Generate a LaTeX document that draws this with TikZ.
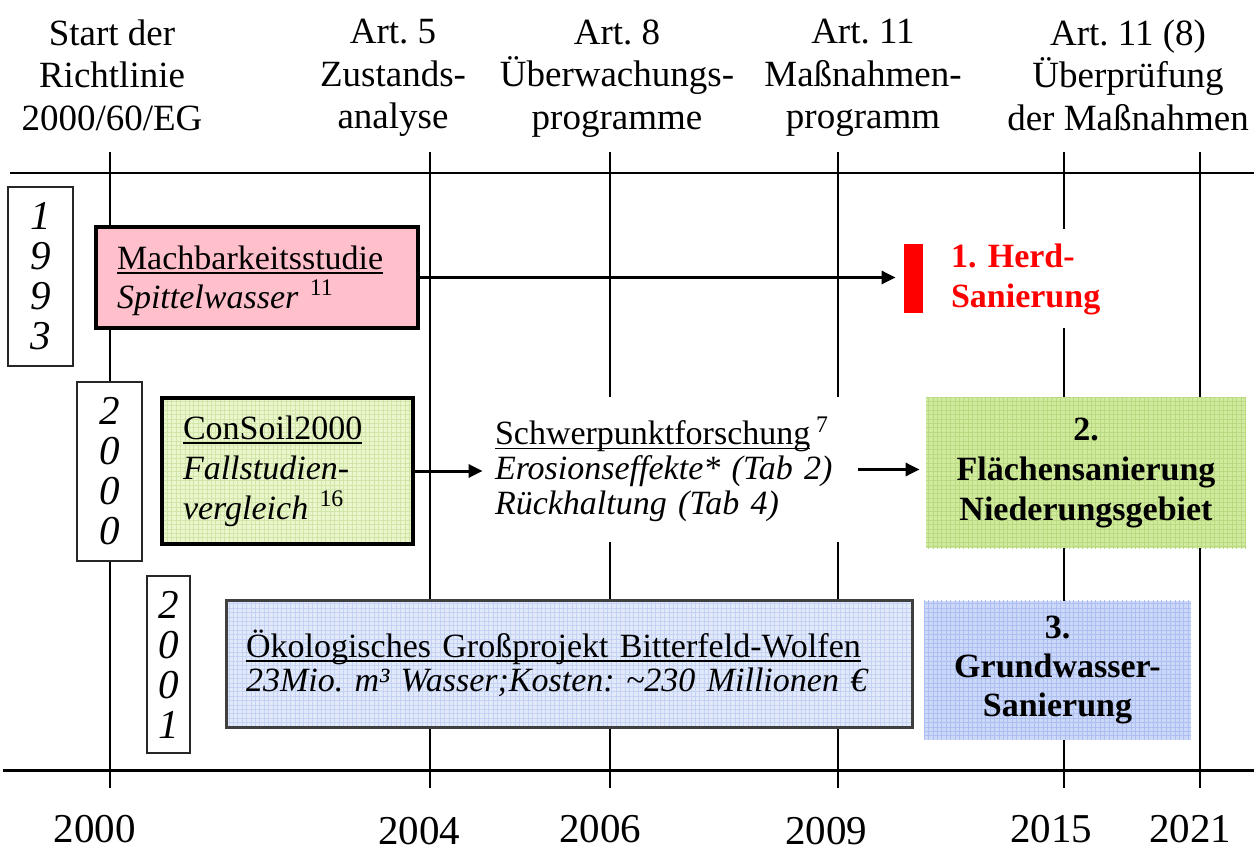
\documentclass[tikz,border=0pt]{standalone}
\usepackage{fontspec}
\setmainfont{Liberation Serif}
\usepackage{tikz}
\usetikzlibrary{arrows.meta, positioning, patterns.meta}
\frenchspacing

\newsavebox{\ulbox}
\newcommand{\ulin}[1]{\sbox{\ulbox}{#1}\rlap{\rule[-2.2pt]{\wd\ulbox}{0.9pt}}\usebox{\ulbox}}

\definecolor{pinkfill}{RGB}{255,192,203}
\definecolor{consoilfill}{RGB}{236,246,204}
\definecolor{consoilgrid}{RGB}{208,230,168}
\definecolor{flaechefill}{RGB}{210,234,158}
\definecolor{flaechegrid}{RGB}{184,218,128}
\definecolor{bitterfill}{RGB}{226,234,250}
\definecolor{bittergrid}{RGB}{196,210,246}
\definecolor{grundfill}{RGB}{204,216,248}
\definecolor{grundgrid}{RGB}{172,190,242}

\begin{document}
\begin{tikzpicture}[
    x=0.5pt, y=-0.5pt,
    head/.style={align=center, inner sep=0pt, anchor=north, font=\fontsize{18.5}{21.25}\selectfont},
    year/.style={anchor=base, inner sep=0pt, font=\fontsize{20.5}{24}\selectfont},
    vline/.style={line width=1pt},
    hline/.style={line width=1pt},
    digitbox/.style={rectangle, draw=black!85, line width=0.9pt, fill=white, minimum width=32.5pt, minimum height=89.5pt, align=center, inner sep=0pt, font=\fontsize{20.5}{20}\selectfont\itshape},
    studybox/.style={rectangle, align=left, inner ysep=0pt, font=\fontsize{17}{19.5}\selectfont},
    goalbox/.style={rectangle, align=center, inner sep=0pt, font=\fontsize{17}{19.5}\selectfont\bfseries},
    texture/.style 2 args={preaction={fill=#1}, preaction={pattern={Hatch[distance=2.2pt, angle=0, line width=0.25pt]}, pattern color=#2}},
    arrow/.style={-{Triangle[length=7pt,width=6.5pt]}, line width=1.5pt}
]
\useasboundingbox (0,0) rectangle (1254,850);

% Zeitachse
\foreach \x in {110,430,610,838,1064,1200}
    \draw[vline] (\x,152) -- (\x,788);
\draw[hline] (10,173) -- (1254,173);
\draw[hline, line width=1.5pt] (3,770) -- (1254,770);

% Kopfzeile
\node[head] (hstart) at (112,19) {Start der\\Richtlinie\\2000/60/EG};
\node[head] (hart5) at (393,19) {Art. 5\\Zustands-\\analyse};
\node[head] (hart8) at (617,19) {Art. 8\\Überwachungs-\\programme};
\node[head] (hart11) at (863,19) {Art. 11\\Maßnahmen-\\programm};
\node[head] (hart118) at (1128,19) {Art. 11 (8)\\Überprüfung\\der Maßnahmen};

% Jahreszahlen
\node[year] (y2000) at (95,842) {2000};
\node[year] (y2004) at (419,844) {2004};
\node[year] (y2006) at (600,842) {2006};
\node[year] (y2009) at (826,844) {2009};
\node[year] (y2015) at (1051,842) {2015};
\node[year] (y2021) at (1190,842) {2021};

% Startjahre
\node[digitbox] (d1993) at (40.5,276.5) {1\\9\\9\\3};
\node[digitbox] (d2000) at (109.5,471.5) {2\\0\\0\\0};
\node[digitbox, minimum width=21.5pt, minimum height=88.5pt] (d2001) at (168.5,664.5) {2\\0\\0\\1};

% Projekte
\node[studybox, draw=black, line width=2pt, fill=pinkfill, minimum width=161pt, minimum height=50.5pt, inner xsep=10.5pt, text width=140pt] (machbar) at (257,277.5)
    {\rule{0pt}{15pt}\ulin{Machbarkeitsstudie}\\\textit{Spittelwasser} \textsuperscript{11}};
\node[studybox, draw=black, line width=1.7pt, texture={consoilfill}{consoilgrid}, minimum width=125.5pt, minimum height=73pt, inner xsep=10.5pt, text width=104.5pt, font=\fontsize{17}{20}\selectfont] (consoil) at (287.5,471)
    {\ulin{ConSoil2000}\\\textit{Fallstudien-}\\\textit{vergleich} \textsuperscript{16}};
\node[studybox, fill=white, minimum width=186.5pt, minimum height=72.5pt, inner xsep=5pt, text width=176.5pt, font=\fontsize{17}{17.5}\selectfont] (schwer) at (671.5,469.5)
    {\ulin{Schwerpunktforschung}\,\textsuperscript{7}\\\textit{Erosionseffekte* (Tab 2)}\\\textit{Rückhaltung (Tab 4)}};
\node[studybox, draw=black!75, line width=1.5pt, texture={bitterfill}{bittergrid}, minimum width=343pt, minimum height=63.5pt, inner xsep=10pt, text width=323pt, font=\fontsize{17}{17}\selectfont] (bitterfeld) at (569,663.5)
    {\ulin{Ökologisches Großprojekt Bitterfeld-Wolfen}\\\mbox{\textit{23Mio. m³ Wasser;Kosten: \textasciitilde230 Millionen €}}};

% Sanierungsziele
\node[fill=red, minimum width=9.5pt, minimum height=34.5pt, inner sep=0pt] (herdbar) at (913.5,278.5) {};
\node[studybox, fill=white, text=red, minimum width=90pt, minimum height=49.5pt, inner xsep=5.5pt, text width=79pt, font=\fontsize{17}{20}\selectfont\bfseries] (herd) at (1030,279)
    {1. Herd-\\Sanierung};
\node[goalbox, texture={flaechefill}{flaechegrid}, minimum width=160pt, minimum height=75pt, font=\fontsize{17}{20}\selectfont\bfseries] (flaeche) at (1086,473)
    {2.\\Flächensanierung\\Niederungsgebiet};
\node[goalbox, texture={grundfill}{grundgrid}, minimum width=133.5pt, minimum height=69.5pt] (grund) at (1057.5,670)
    {3.\\Grundwasser-\\Sanierung};

% Pfeile
\draw[arrow, shorten >=4pt] (machbar.east) -- (machbar.east -| herdbar.west);
\draw[arrow, shorten >=1pt] (consoil.east) -- (consoil.east -| schwer.west);
\draw[arrow, shorten >=3pt] (schwer.east) -- (schwer.east -| flaeche.west);

\end{tikzpicture}
\end{document}
